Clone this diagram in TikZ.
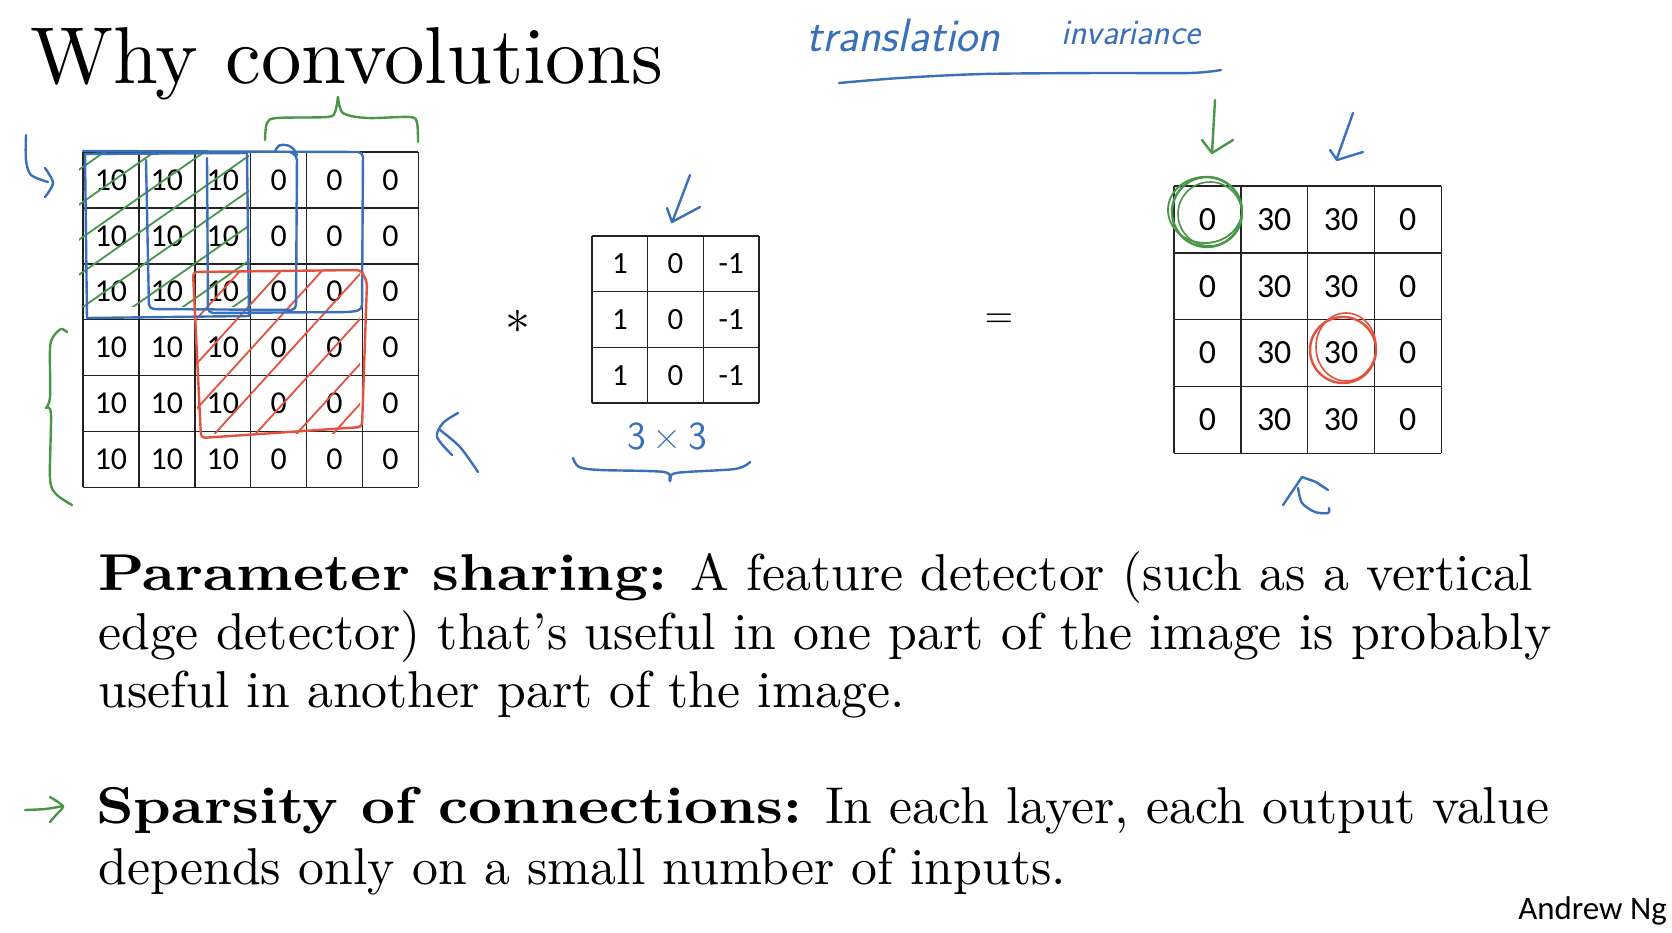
\documentclass[tikz,border=0pt]{standalone}
\usepackage{graphicx}
\usepackage{fontspec}
\setmainfont{lmroman10-regular}[Extension=.otf,BoldFont=lmroman10-bold,ItalicFont=lmroman10-italic,BoldItalicFont=lmroman10-bolditalic,BoldFeatures={FakeStretch=1.14}]
\newfontfamily\calfont{Carlito}
\newfontfamily\handfont{Latin Modern Sans}
\definecolor{inkblue}{RGB}{58,112,184}
\definecolor{inkgreen}{RGB}{72,150,72}
\definecolor{inkred}{RGB}{226,82,62}
\definecolor{gridcol}{RGB}{35,35,35}
\begin{document}
\begin{tikzpicture}[x=1bp,y=-1bp,
  ink/.style={line width=2.4bp,line cap=round,line join=round},
  blueink/.style={ink,draw=inkblue},
  greenink/.style={ink,draw=inkgreen},
  redink/.style={ink,draw=inkred},
  gridln/.style={draw=gridcol,line width=1.4bp},
  innum/.style={font=\calfont\fontsize{32}{32}\selectfont,inner sep=0pt},
  filnum/.style={font=\calfont\fontsize{31}{31}\selectfont,inner sep=0pt},
  outnum/.style={font=\calfont\fontsize{34}{34}\selectfont,inner sep=0pt},
  bodyline/.style={anchor=base west,inner sep=0pt,font=\fontsize{52}{58}\selectfont},
  handtext/.style={inner sep=0pt,text=inkblue,font=\handfont\itshape\fontsize{36}{36}\selectfont},
  opsym/.style={inner sep=0pt,font=\fontsize{10}{12}\selectfont}]
\useasboundingbox[fill=white] (0,0) rectangle (1672,932);

% title
\node[anchor=base west,inner sep=0pt,font=\fontsize{81}{81}\selectfont] (title) at (30,83) {Why convolutions};

% ---- input 6x6 grid ----
\foreach \i in {0,...,6}{
  \draw[gridln] (83+\i*55.9,152) -- (83+\i*55.9,487.4);
  \draw[gridln] (83,152+\i*55.9) -- (418.4,152+\i*55.9);
}
\foreach \r in {1,...,6}{
  \foreach \v [count=\c] in {10,10,10,0,0,0}{
    \node[innum] (in\r\c) at (83+\c*55.9-27.95,152+\r*55.9-27.95) {\v};
  }
}

% ---- filter 3x3 ----
\foreach \i in {0,...,3}{
  \draw[gridln] (592+\i*55.7,236) -- (592+\i*55.7,403.1);
  \draw[gridln] (592,236+\i*55.7) -- (759.1,236+\i*55.7);
}
\foreach \r in {1,...,3}{
  \foreach \v [count=\c] in {1,0,-1}{
    \node[filnum] (f\r\c) at (592+\c*55.7-27.85,236+\r*55.7-27.85) {\v};
  }
}

% ---- output 4x4 ----
\foreach \i in {0,...,4}{
  \draw[gridln] (1174+\i*66.8,186) -- (1174+\i*66.8,453.2);
  \draw[gridln] (1174,186+\i*66.8) -- (1441.2,186+\i*66.8);
}
\foreach \r in {1,...,4}{
  \foreach \v [count=\c] in {0,30,30,0}{
    \node[outnum] (o\r\c) at (1174+\c*66.8-33.4,186+\r*66.8-33.4) {\v};
  }
}

% operators
\node[opsym] (star) at (518,322) {\scalebox{5.0}{$\ast$}};
\node[opsym] (eq) at (999,321) {\scalebox{3.7}{$=$}};

% ---- body text ----
\node[bodyline] (p1) at (98,590) {\textbf{Parameter sharing:} A feature detector (such as a vertical};
\node[bodyline] (p2) at (98,649) {edge detector) that’s useful in one part of the image is probably};
\node[bodyline] (p3) at (98,707) {useful in another part of the image.};
\node[bodyline] (s1) at (96,823) {\textbf{Sparsity of connections:} In each layer, each output value};
\node[bodyline] (s2) at (98,884) {depends only on a small number of inputs.};
\node[anchor=base east,inner sep=0pt,font=\calfont\fontsize{33}{33}\selectfont] (author) at (1667,919) {Andrew Ng};

% ---- hand annotations ----
\node[handtext,anchor=base west,font=\handfont\itshape\fontsize{47}{47}\selectfont] (ti1) at (806,51) {translation};
\node[handtext,anchor=base west] (ti2) at (1061,44) {invariance};
\draw[blueink] plot[smooth] coordinates {(839,83) (900,78) (983,74) (1100,73) (1190,73) (1221,70)};

% green hatching on top-left 3x3
\begin{scope}
  \clip (79,150) rectangle (249,306);
  \foreach \c in {225,260,295,330,365,400,435,470}{
    \draw[greenink,line width=1.8bp] (0,\c) -- (400,\c-0.7*400);
  }
\end{scope}
% red hatching
\begin{scope}
  \clip (197,270) rectangle (360,433);
  \foreach \c in {535,580,625,670,715,760,800}{
    \draw[redink,line width=1.8bp] (150,\c-1.1*150) -- (420,\c-1.1*420);
  }
\end{scope}

% blue boxes
\draw[blueink] (85,154) -- (247,153) -- (249,316) -- (87,318) -- cycle;
\draw[blueink,rounded corners=5bp] (146,160) -- (149,309) -- (296,310) -- (297,155) -- (290,152) (275,152) -- (278,144) -- (292,146) -- (297,155);
\draw[blueink,rounded corners=5bp] (207,158) -- (208,313) -- (350,312) -- (362,310) -- (363,152) -- (83,151);
% red box
\draw[redink,rounded corners=4bp] (193,272) -- (361,270) -- (367,282) -- (362,427) -- (201,438) -- cycle;

% green braces
\draw[greenink] plot[smooth] coordinates {(265,140) (267,123) (277,118) (327,117) (335,112) (338,97)};
\draw[greenink] plot[smooth] coordinates {(338,97) (343,113) (367,118) (410,117) (417,123) (418,142)};
\draw[greenink] plot[smooth] coordinates {(67,332) (61,329) (53,337) (50,349) (50,397) (46,408)};
\draw[greenink] plot[smooth] coordinates {(46,408) (51,414) (50,478) (56,494) (72,505)};

% blue arrow top-left
\draw[blueink] plot[smooth] coordinates {(26,135) (26,160) (31,175) (48,182)};
\draw[blueink] plot[smooth] coordinates {(45,168) (53,183) (45,197)};
% blue arrow right of input
\draw[blueink] plot[smooth] coordinates {(458,413) (443,423) (437,437) (452,455)};
\draw[blueink] plot[smooth] coordinates {(440,430) (460,447) (478,472)};
% blue arrow above filter
\draw[blueink] (690,175) -- (673,220);
\draw[blueink] (667,208) -- (672,222) -- (700,207);
% 3x3 label and brace
\node[handtext,font=\handfont\fontsize{40}{40}\selectfont] (dim) at (667,436) {3\,×\,3};
\draw[blueink] plot[smooth] coordinates {(573,458) (579,467) (600,470) (664,472) (670,481)};
\draw[blueink] plot[smooth] coordinates {(670,481) (676,473) (735,469) (750,462)};
% arrows above output
\draw[greenink] (1215,100) -- (1212,153);
\draw[greenink] (1202,140) -- (1212,153) -- (1233,140);
\draw[blueink] (1353,113) -- (1337,158);
\draw[blueink] (1330,150) -- (1337,160) -- (1363,152);
% circles
\draw[greenink] (1207,212) circle [radius=35];
\draw[greenink,line width=1.8bp] (1205,210) ellipse [x radius=37,y radius=33];
\draw[greenink,line width=1.6bp] (1210,214) circle [radius=32];
\draw[redink] (1343,350) circle [radius=33];
\draw[redink,line width=1.6bp] (1346,347) ellipse [x radius=30,y radius=34];
% arrow below output
\draw[blueink] (1283,505) -- (1302,477) -- (1316,482) -- (1328,490);
\draw[blueink] plot[smooth] coordinates {(1298,488) (1302,503) (1315,512) (1328,513) (1329,508)};
% green arrow bottom-left
\draw[greenink] plot[smooth] coordinates {(25,810) (45,809) (63,806)};
\draw[greenink] plot[smooth] coordinates {(50,797) (58,802) (63,807) (56,815) (50,822)};
\end{tikzpicture}
\end{document}
